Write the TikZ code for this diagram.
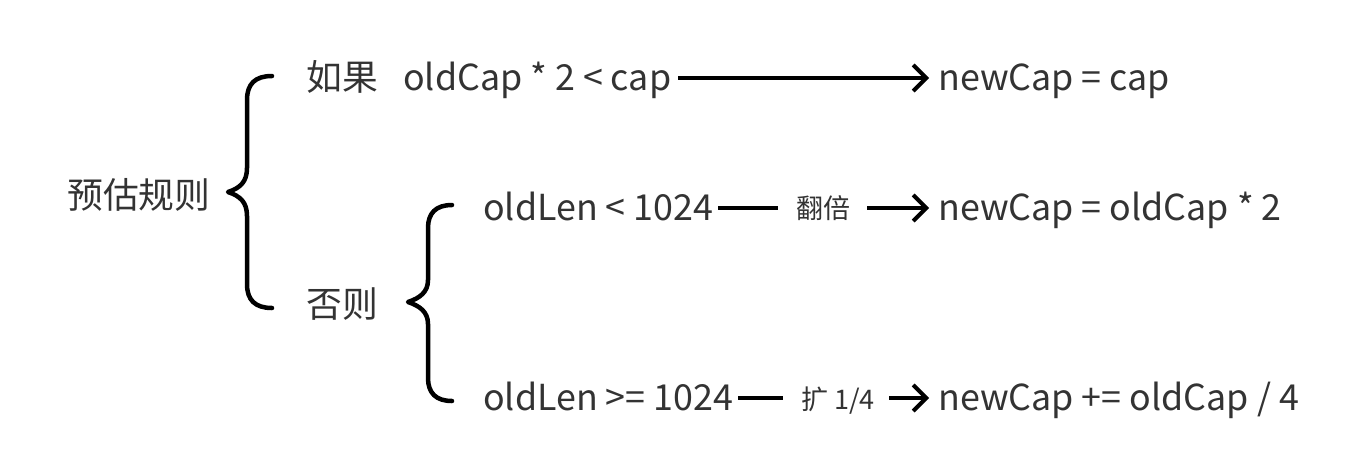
\documentclass[tikz,border=0pt]{standalone}
\usepackage{fontspec}
\setmainfont{Noto Sans CJK SC}
\usetikzlibrary{arrows.meta}
\definecolor{txt}{HTML}{333333}
\tikzset{
  lbl/.style={inner sep=0pt, anchor=base west, text=txt, font=\fontsize{35.8}{40}\selectfont},
  small/.style={inner sep=0pt, anchor=base west, text=txt, font=\fontsize{27}{30}\selectfont},
  ln/.style={line width=4pt, black},
  arr/.style={line width=4pt, black, -{Straight Barb[length=13pt,width=26pt,line width=4pt]}},
  brace/.style={line width=4.5pt, black, line cap=round, line join=round}
}
\begin{document}
\begin{tikzpicture}[x=1pt,y=-1pt]
\useasboundingbox (0,0) rectangle (1348,472);
% texts
\node[lbl] (root) at (67,208) {预估规则};
\node[lbl] (ifk) at (306,90) {如果};
\node[lbl] (cond1) at (403,90) {oldCap * 2 < cap};
\node[lbl] (res1) at (938,90) {newCap = cap};
\node[lbl] (else) at (306,317) {否则};
\node[lbl] (cond2) at (483,220) {oldLen < 1024};
\node[small] (l2) at (796,218) {翻倍};
\node[lbl] (res2) at (938,220) {newCap = oldCap * 2};
\node[lbl] (cond3) at (483,410) {oldLen >= 1024};
\node[small] (l3) at (801,409) {扩 1/4};
\node[lbl] (res3) at (938,410) {newCap += oldCap / 4};
% connectors
\draw[arr] ([shift={(7,-12)}]cond1.base east) -- ([shift={(-9,-12)}]res1.base west);
\draw[ln] ([shift={(5,-12)}]cond2.base east) -- ([shift={(-18,-10)}]l2.base west);
\draw[arr] ([shift={(17,-10)}]l2.base east) -- ([shift={(-9,-12)}]res2.base west);
\draw[ln] ([shift={(5,-12)}]cond3.base east) -- ([shift={(-18,-11)}]l3.base west);
\draw[arr] ([shift={(14,-11)}]l3.base east) -- ([shift={(-9,-12)}]res3.base west);
% big brace
\draw[brace] (272,76) .. controls (255,76) and (247,84) .. (247,100)
  -- (247,168) .. controls (247,182) and (240,188) .. (228,192)
  .. controls (240,196) and (247,202) .. (247,216)
  -- (247,284) .. controls (247,300) and (255,308) .. (272,308);
% small brace
\draw[brace] (452,205) .. controls (436,205) and (428,213) .. (428,228)
  -- (428,280) .. controls (428,292) and (420,298) .. (408,302)
  .. controls (420,306) and (428,312) .. (428,324)
  -- (428,378) .. controls (428,393) and (436,401) .. (452,401);
\end{tikzpicture}
\end{document}
